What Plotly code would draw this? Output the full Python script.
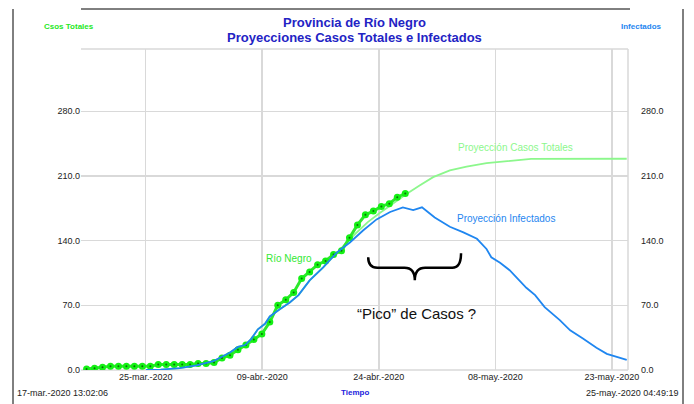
import plotly.graph_objects as go

# ---------------- data ----------------
# time axis: days since model start (17-mar-2020 13:02:06) to end (25-may-2020 04:49:19)
t_start_label = "17-mar.-2020 13:02:06"
t_end_label = "25-may.-2020 04:49:19"
t_range = [0, 68.66]
x_tick_days = [8.12, 22.75, 37.38, 52.01, 66.64]
x_tick_labels = ["25-mar.-2020", "09-abr.-2020", "24-abr.-2020", "08-may.-2020", "23-may.-2020"]
y_ticks = [0, 70, 140, 210, 280]

# observed cases Río Negro (daily)
obs_days = [0.7, 1.7, 2.7, 3.7, 4.7, 5.7, 6.7, 7.7, 8.7, 9.7, 10.7, 11.7, 12.7, 13.7,
            14.7, 15.7, 16.7, 17.7, 18.7, 19.7, 20.7, 21.7, 22.7, 23.7, 24.7, 25.7,
            26.7, 27.7, 28.7, 29.7, 30.7, 31.7, 32.7, 33.7, 34.7, 35.7, 36.7, 37.7,
            38.7, 39.7, 40.7]
obs_cases = [1, 2, 3, 4, 4, 4, 4, 4, 4, 6, 6, 6, 6, 6, 7, 7, 8, 13, 16, 22, 27, 33,
             39, 52, 70, 76, 84, 99, 106, 114, 118, 125, 129, 143, 157, 168, 172,
             177, 180, 187, 191]

# projection: infected
inf_days = [8.15, 10.0, 12.4, 14.5, 16.6, 18.7, 19.7, 20.6, 21.4, 22.2, 23.1, 23.7,
            25.0, 26.2, 27.3, 28.7, 30.4, 32.1, 33.75, 35.4, 37.1, 38.8, 40.4, 41.7,
            42.8, 43.8, 44.4, 46.3, 48.0, 49.7, 50.9, 51.5, 52.6, 53.8, 55.1, 55.9,
            57.0, 58.2, 60.1, 61.4, 63.0, 64.7, 66.0, 67.2, 68.5]
inf_vals = [0, 0.5, 2, 5, 9.5, 19, 25, 27, 34, 44, 50, 58, 66, 73, 81, 97, 111, 127,
            138, 151, 163, 171, 176, 173, 176, 169, 165, 155, 149, 142, 131, 122, 116,
            108, 96, 89, 81, 68, 54, 43, 34, 24, 17.5, 14, 11]

# projection: total cases
tot_days = [8.15, 10.0, 12.4, 14.5, 16.6, 18.7, 19.7, 20.6, 21.4, 22.2, 23.1, 23.7,
            25.0, 26.2, 27.3, 28.7, 30.4, 32.1, 33.0, 34.5, 36.0, 37.5, 38.8, 40.9,
            42.5, 44.2, 46.3, 48.4, 50.9, 53.4, 55.9, 56.5, 68.5]
tot_vals = [0, 0.5, 2, 5, 9.5, 19, 25, 27, 34, 44, 50, 58, 66, 73, 81, 97, 111, 127,
            135, 148, 160, 170, 178, 190.7, 199.7, 208.7, 216, 220, 223.8, 226, 227.5,
            228.5, 228.6]

# ---------------- styling ----------------
FONT = "Liberation Sans, Arial, Helvetica, sans-serif"
GRID = "#d9d9d9"
C_OBS = "#2ee82e"
C_OBS_M = "#14f014"
C_TOT = "#8cf78c"
C_INF = "#1f86f0"
C_TITLE = "#2323c4"

fig = go.Figure()

fig.add_trace(go.Scatter(x=tot_days, y=tot_vals, mode="lines",
                         line=dict(color=C_TOT, width=1.8), hoverinfo="skip"))
fig.add_trace(go.Scatter(x=inf_days, y=inf_vals, mode="lines", yaxis="y2",
                         line=dict(color=C_INF, width=1.8), hoverinfo="skip"))
fig.add_trace(go.Scatter(x=obs_days, y=obs_cases, mode="lines+markers",
                         line=dict(color=C_OBS, width=3),
                         marker=dict(color=C_OBS_M, size=7), hoverinfo="skip"))
fig.add_trace(go.Scatter(x=obs_days, y=obs_cases, mode="markers",
                         marker=dict(color="#0b6e0b", size=2), hoverinfo="skip"))

ymax = 347.4
fig.update_layout(
    width=694, height=404,
    margin=dict(l=81, r=66, t=49, b=34, autoexpand=False),
    paper_bgcolor="white", plot_bgcolor="white",
    showlegend=False,
    font=dict(family=FONT, size=9, color="#222222"),
    xaxis=dict(range=t_range, tickmode="array", tickvals=x_tick_days,
               ticktext=x_tick_labels, showgrid=True, gridcolor=GRID, gridwidth=1.5,
               zeroline=False, showline=False, ticks="",
               tickfont=dict(size=9, color="#222222")),
    yaxis=dict(range=[0, ymax], tickmode="array", tickvals=y_ticks, tickformat=".1f",
               showgrid=True, gridcolor=GRID, gridwidth=1.5, zeroline=False,
               showline=False, ticks="", tickfont=dict(size=9, color="#222222")),
    yaxis2=dict(range=[0, ymax], tickmode="array", tickvals=y_ticks, tickformat=".1f",
                overlaying="y", side="right", showgrid=False, zeroline=False,
                showline=False, ticks="", ticklabelstandoff=12,
                tickfont=dict(size=9, color="#222222")),
)

def px_x(px):
    return (px - 81) / 547.0

def px_y(py):
    return (370 - py) / 321.0

shapes = [
    # plot border (top / right / bottom) in gray
    dict(type="line", xref="paper", yref="paper", x0=0, x1=1, y0=1, y1=1,
         line=dict(color=GRID, width=1.5), layer="below"),
    dict(type="line", xref="paper", yref="paper", x0=1, x1=1, y0=0, y1=1,
         line=dict(color=GRID, width=1.5), layer="below"),
    dict(type="line", xref="paper", yref="paper", x0=0, x1=1, y0=0, y1=0,
         line=dict(color=GRID, width=1.5), layer="below"),
    # outer black frame pieces
    dict(type="line", xref="paper", yref="paper", x0=px_x(81), x1=px_x(630),
         y0=px_y(9), y1=px_y(9), line=dict(color="black", width=1)),
    dict(type="line", xref="paper", yref="paper", x0=px_x(13), x1=px_x(13),
         y0=px_y(9), y1=px_y(404), line=dict(color="black", width=1)),
    dict(type="line", xref="paper", yref="paper", x0=px_x(683), x1=px_x(683),
         y0=px_y(9), y1=px_y(404), line=dict(color="black", width=1)),
    # white patch behind the annotation text (interrupts gridline)
    dict(type="rect", xref="x", yref="y", x0=31.5, x1=53.5, y0=66.5, y1=73.5,
         fillcolor="white", line=dict(width=0), layer="below"),
    # curly brace
    dict(type="path", xref="x", yref="y",
         path=("M 36.05,122 Q 36.05,110.6 37.2,110.6 L 40.6,110.6 "
               "Q 41.9,110.6 41.9,97 Q 41.9,110.6 43.2,110.6 L 46.6,110.6 "
               "Q 47.7,110.6 47.7,126.4"),
         line=dict(color="black", width=2.5)),
]
fig.update_layout(shapes=shapes)

anns = [
    dict(text="<b>Provincia de Río Negro</b>", x=0.5, y=px_y(22), font=dict(size=13, color=C_TITLE)),
    dict(text="<b>Proyecciones Casos Totales e Infectados</b>", x=0.5, y=px_y(37),
         font=dict(size=13, color=C_TITLE)),
    dict(text="<b>Csos Totales</b>", x=px_x(68.5), y=px_y(26), font=dict(size=8, color="#1ee81e")),
    dict(text="<b>Infectados</b>", x=px_x(641), y=px_y(26), font=dict(size=8, color=C_INF)),
    dict(text="<b>Tiempo</b>", x=px_x(354.5), y=px_y(393), font=dict(size=8, color="#2222dd")),
    dict(text=t_start_label, x=px_x(15), y=px_y(393), xanchor="left",
         font=dict(size=9, color="#222222")),
    dict(text=t_end_label, x=px_x(680), y=px_y(393), xanchor="right",
         font=dict(size=9, color="#222222")),
]
for a in anns:
    a.setdefault("xanchor", "center")
    fig.add_annotation(xref="paper", yref="paper", yanchor="middle", showarrow=False, **a)

data_anns = [
    dict(text="Río Negro", x=26.1, y=120.7, font=dict(size=10, color="#33e833")),
    dict(text="Proyección Casos Totales", x=54.5, y=240.8, font=dict(size=10, color=C_TOT)),
    dict(text="Proyección Infectados", x=53.4, y=164, font=dict(size=10, color=C_INF)),
    dict(text="“Pico” de Casos ?", x=42.1, y=61.1, font=dict(size=15, color="#111111")),
]
for a in data_anns:
    fig.add_annotation(xref="x", yref="y", xanchor="center", yanchor="middle",
                       showarrow=False, **a)

fig.write_html("out.html", config={"displayModeBar": False, "staticPlot": True},
               post_script="document.body.style.margin='0';document.body.style.overflow='hidden';")
